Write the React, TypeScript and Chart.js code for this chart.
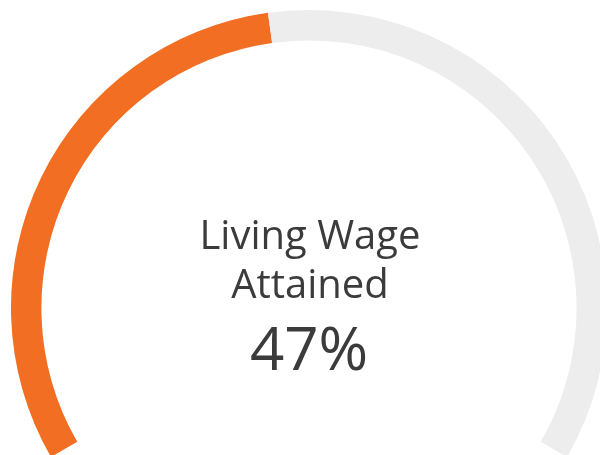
import React, { useEffect, useRef } from "react";
import { Chart, registerables } from "chart.js";

Chart.register(...registerables);

const segmentLabels = ["Attained", "Remaining"];
const segmentValues = [46.7, 53.3];
const segmentColors = ["#F16E23", "#EDEDED"];
const centerLines = ["Living Wage", "Attained"];
const centerValue = "47%";

const centerTextPlugin = {
  id: "centerText",
  afterDraw(chart: any) {
    const arc = chart.getDatasetMeta(0).data[0];
    if (!arc) return;
    const { ctx } = chart;
    const cx = arc.x;
    const cy = arc.y;
    ctx.save();
    ctx.fillStyle = "#3b3b3b";
    ctx.textAlign = "center";
    ctx.textBaseline = "alphabetic";
    ctx.font = "40px 'Open Sans'";
    ctx.fillText(centerLines[0], cx + 1, cy - 59);
    ctx.fillText(centerLines[1], cx + 1, cy - 10);
    ctx.font = "60px 'Open Sans'";
    ctx.fillText(centerValue, cx, cy + 62);
    ctx.restore();
  },
};

export default function App() {
  const canvasRef = useRef<HTMLCanvasElement>(null);

  useEffect(() => {
    if (!canvasRef.current) return;
    const chart = new Chart(canvasRef.current, {
      type: "doughnut",
      data: {
        labels: segmentLabels,
        datasets: [
          {
            data: segmentValues,
            backgroundColor: segmentColors,
            borderWidth: 0,
            hoverOffset: 0,
          },
        ],
      },
      options: {
        animation: false,
        responsive: true,
        maintainAspectRatio: false,
        rotation: -120,
        circumference: 240,
        cutout: "89.8%",
        layout: { padding: 0 },
        plugins: {
          legend: { display: false },
          tooltip: { enabled: false },
          title: { display: false },
        },
      },
      plugins: [centerTextPlugin],
    });
    return () => chart.destroy();
  }, []);

  return (
    <div
      style={{
        position: "fixed",
        left: 0,
        top: 0,
        width: 600,
        height: 455,
        overflow: "hidden",
        background: "#ffffff",
      }}
    >
      <div
        style={{
          position: "absolute",
          left: 11,
          top: 10,
          width: 596,
          height: 447,
        }}
      >
        <canvas ref={canvasRef} />
      </div>
    </div>
  );
}
